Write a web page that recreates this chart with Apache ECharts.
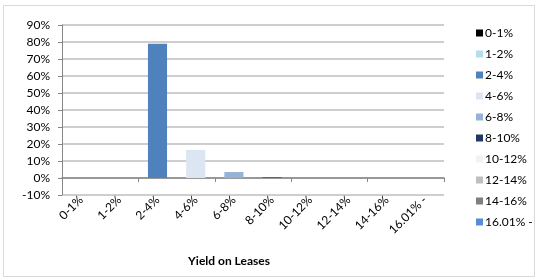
<!DOCTYPE html>
<html>
<head>
<meta charset="utf-8">
<script src="https://cdn.jsdelivr.net/npm/echarts@6/dist/echarts.min.js"></script>
<style>
  html, body { margin: 0; padding: 0; background: #fff; }
  #chart { width: 535px; height: 278px; }
</style>
</head>
<body>
<div id="chart"></div>
<script>
// yield bands and share of leases (%)
const categories = ['0-1%', '1-2%', '2-4%', '4-6%', '6-8%', '8-10%', '10-12%', '12-14%', '14-16%', '16.01% -']
const shares = [0, 0, 79, 16.5, 3.5, 0.3, 0, 0, 0, 0]
const colors = ['#000000', '#B7DEE8', '#4F81BD', '#DCE6F2', '#95B3D7', '#1F3864', '#F2F2F2', '#BFBFBF', '#7F7F7F', '#558ED5']
const yTicks = { min: -10, max: 90, step: 10 }

const font = 'Lato, "Liberation Sans", sans-serif'

const chart = echarts.init(document.getElementById('chart'))

const series = categories.map((name, i) => ({
  name: name,
  type: 'bar',
  stack: 'all',
  barWidth: '50%',
  xAxisIndex: 0,
  itemStyle: { color: colors[i] },
  data: categories.map((c, j) => (j === i ? shares[i] : '-'))
}))

chart.setOption({
  animation: false,
  textStyle: { fontFamily: font },
  title: {
    text: 'Yield on Leases',
    left: 224,
    top: 250,
    textAlign: 'center',
    textStyle: { fontFamily: font, fontSize: 12, fontWeight: 'bold', color: '#000' }
  },
  legend: {
    orient: 'vertical',
    left: 471,
    top: 22,
    icon: 'rect',
    itemWidth: 7,
    itemHeight: 7,
    itemGap: 9,
    textStyle: { fontFamily: font, fontSize: 12, color: '#000', padding: [0, 0, 0, -3] },
    data: categories
  },
  grid: { left: 62, top: 25, width: 382, height: 170 },
  xAxis: [
    {
      type: 'category',
      data: categories,
      axisLine: { onZero: true, lineStyle: { color: '#868686', width: 1.5 } },
      axisTick: { show: true, length: 4, lineStyle: { color: '#868686' } },
      axisLabel: { show: false },
      splitLine: { show: false }
    },
    {
      type: 'category',
      data: categories,
      position: 'bottom',
      axisLine: { show: false, onZero: false },
      axisTick: { show: false },
      axisLabel: { rotate: 45, margin: 3, fontFamily: font, fontSize: 12, color: '#000', interval: 0 },
      splitLine: { show: false }
    }
  ],
  yAxis: {
    type: 'value',
    min: yTicks.min,
    max: yTicks.max,
    interval: yTicks.step,
    axisLine: { show: true, lineStyle: { color: '#868686' } },
    axisTick: { show: true, length: 4, lineStyle: { color: '#868686' } },
    axisLabel: { formatter: '{value}%', margin: 12, fontFamily: font, fontSize: 12, color: '#000' },
    splitLine: { lineStyle: { color: '#BEBEBE', width: 1.5 } }
  },
  graphic: [{
    type: 'rect',
    shape: { x: 3.5, y: 5.5, width: 531, height: 271 },
    style: { fill: 'none', stroke: '#D9D9D9', lineWidth: 1 },
    z: -1
  }],
  series: series
})
</script>
</body>
</html>
